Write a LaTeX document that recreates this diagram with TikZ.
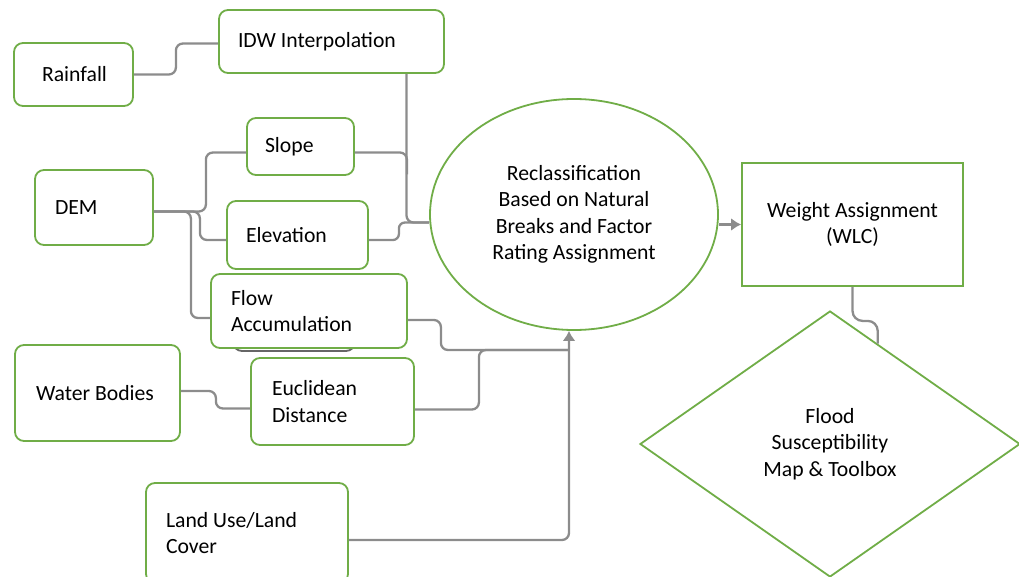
\documentclass[tikz,border=0pt]{standalone}
\usepackage{fontspec}
\setmainfont{Carlito}
\usetikzlibrary{shapes.geometric,arrows.meta,calc}
\definecolor{boxgreen}{HTML}{70AD47}
\definecolor{linkgray}{HTML}{8C8C8C}
\begin{document}
\begin{tikzpicture}[x=1pt,y=-1pt,font=\fontsize{21.7}{26.4}\selectfont,
    stage/.style={draw=boxgreen,line width=1.8pt,fill=white,align=center,inner sep=0pt},
    box/.style={stage,rounded corners=9pt,align=flush left,inner ysep=0pt},
    link/.style={draw=linkgray,line width=2.3pt,rounded corners=7pt},
    tip/.style={-{Latex[length=10pt,width=13pt]}}]
  \useasboundingbox (0,0) rectangle (1019,577);
  % input layers
  \node[box,inner xsep=28pt,text width=63pt,minimum height=63pt] (r) at (73.5,74.5) {Rainfall};
  \node[box,inner xsep=19pt,text width=187pt,minimum height=63pt] (i) at (331.5,41.5) {IDW Interpolation};
  \node[box,inner xsep=20pt,text width=78pt,minimum height=75pt] (d) at (94,207.5) {DEM};
  \node[box,inner xsep=18pt,text width=71pt,minimum height=57pt] (s) at (300.5,146.5) {Slope};
  \node[box,inner xsep=19pt,text width=103pt,minimum height=68pt] (e) at (297.5,235) {Elevation};
  \node[box,draw=gray!80!black,minimum width=122pt,minimum height=66pt] (h) at (294,318) {};
  \node[box,inner xsep=20pt,text width=156pt,minimum height=74pt] (f) at (309,311) {Flow\\Accumulation};
  \node[box,inner xsep=21pt,text width=123pt,minimum height=96pt] (w) at (97.5,393) {Water Bodies};
  \node[box,inner xsep=21pt,text width=121pt,minimum height=87pt] (u) at (332.5,401.5) {Euclidean\\Distance};
  \node[box,inner xsep=20pt,text width=162pt,minimum height=100pt] (l) at (247,533) {Land Use/Land\\Cover};
  % processing steps
  \node[stage,ellipse,minimum width=288pt,minimum height=231pt] (c) at (574,214.5)
    {Reclassification\\Based on Natural\\Breaks and Factor\\Rating Assignment};
  \node[stage,minimum width=221pt,minimum height=123pt] (g) at (852.5,224.5) {Weight Assignment\\(WLC)};
  \node[stage,diamond,minimum width=380pt,minimum height=266pt] (m) at (830,444)
    {Flood\\Susceptibility\\Map \& Toolbox};
  \coordinate (j) at (569,350);
  % connectors
  \draw[link] (r.east) -- ++(42,0) |- ([yshift=-2pt]i.west);
  \draw[link] ([xshift=75pt]i.south) |- ([yshift=-8pt]c.west);
  \draw[link] ([yshift=-6pt]s.east) -- ++(52,0) -- ++(0,22);
  \draw[link,rounded corners=6pt] ([yshift=-5pt]e.east) -- ++(30,0) |- ([yshift=-8pt]c.west);
  \draw[link] ([yshift=-4pt]d.east) -- ++(52,0) |- ([yshift=-6pt]s.west);
  \draw[link] ([yshift=-4pt]d.east) -- ++(46,0) |- ([yshift=-5pt]e.west);
  \draw[link] ([yshift=-4pt]d.east) -- ++(37,0) |- ([yshift=-7pt]f.west);
  \draw[link] ([yshift=-9pt]f.east) -- ++(33,0) |- (j);
  \draw[link] ([yshift=-8pt]u.east) -- ++(64,0) |- (j);
  \draw[link] ([yshift=2pt]w.east) -- ++(35,0) |- ([yshift=-7pt]u.west);
  \draw[link,tip] ([yshift=-7pt]l.east) -| ([xshift=-5pt]c.south);
  \draw[link,tip] (c.east |- g.west) -- (g.west);
  \draw[link,rounded corners=10pt] (g.south) -- ++(0,34) -| ($(m.north)!0.25!(m.east)$);
\end{tikzpicture}
\end{document}
